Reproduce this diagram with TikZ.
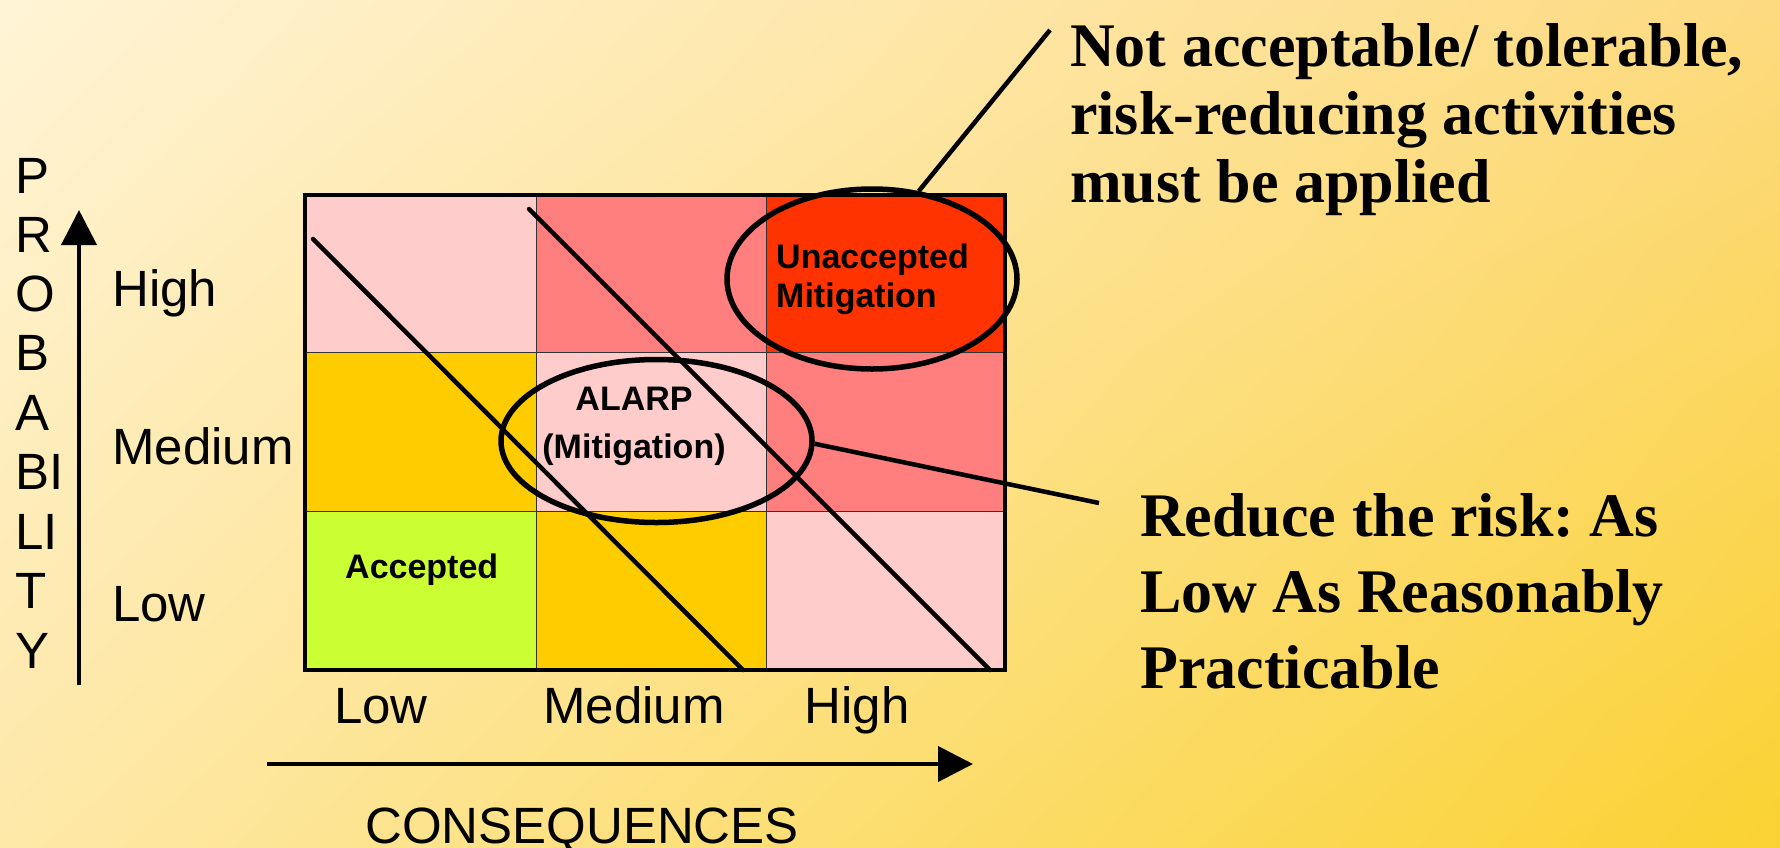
\documentclass[tikz,border=0pt]{standalone}
\usepackage{fontspec}
\setmainfont{Liberation Serif}
\setsansfont{Liberation Sans}
\frenchspacing
\usetikzlibrary{shapes.geometric,arrows.meta,shadings}
\definecolor{bgTL}{HTML}{FFF4D6}
\definecolor{bgTR}{HTML}{FDDA80}
\definecolor{bgBL}{HTML}{FEE8A8}
\definecolor{bgBR}{HTML}{FAD232}
\definecolor{cpink}{HTML}{FFCCCC}
\definecolor{csalmon}{HTML}{FF7F7F}
\definecolor{cred}{HTML}{FF3300}
\definecolor{cgold}{HTML}{FFCC00}
\definecolor{clime}{HTML}{CCFF33}
\tikzset{
  cell/.style={draw=black!80, line width=1pt},
  diag/.style={line width=4.5pt, line cap=round},
  ring/.style={ellipse, draw, line width=5.5pt, inner sep=0pt},
  leader/.style={line width=4.5pt},
  axis/.style={line width=4pt, -{Triangle[length=35pt,width=35pt]}},
  lab/.style={font=\sffamily\fontsize{51}{58}\selectfont, inner sep=0pt},
  celltxt/.style={font=\sffamily\bfseries\fontsize{34}{39}\selectfont, inner sep=0pt},
  note/.style={font=\rmfamily\bfseries\fontsize{62}{68}\selectfont, inner sep=0pt, align=left},
}
\begin{document}
\begin{tikzpicture}[x=1pt,y=-1pt]
\useasboundingbox (0,0) rectangle (1780,847);
\shade[upper left=bgTL, upper right=bgTR, lower left=bgBL, lower right=bgBR] (0,0) rectangle (1780,847);
% cells
\fill[cpink]   (305,195) rectangle (536,352);
\fill[csalmon] (536,195) rectangle (766,352);
\fill[cred]    (766,195) rectangle (1005,352);
\fill[cgold]   (305,352) rectangle (536,511);
\fill[cpink]   (536,352) rectangle (766,511);
\fill[csalmon] (766,352) rectangle (1005,511);
\fill[clime]   (305,511) rectangle (536,670);
\fill[cgold]   (536,511) rectangle (766,670);
\fill[cpink]   (766,511) rectangle (1005,670);
\draw[cell] (536,195) -- (536,670) (766,195) -- (766,670) (305,352) -- (1005,352) (305,511) -- (1005,511);
% diagonal lines
\coordinate (d1a) at (313,239);
\coordinate (d1b) at (743,670);
\coordinate (d2a) at (529,209);
\coordinate (d2b) at (990,670);
\draw[diag] (d1a) -- (d1b);
\draw[diag] (d2a) -- (d2b);
% border
\draw[line width=4.5pt] (305,195) rectangle (1005,670);
% cell texts
\node[celltxt, anchor=base west] (acc) at (345,578) {Accepted};
\node[celltxt, anchor=base west, align=left] (unacc) at (776,307) {Unaccepted\\Mitigation};
\node[celltxt, anchor=base, align=center] (alarp) at (634,458) {ALARP\\[9pt](Mitigation)};
% ellipses
\node[ring, minimum width=290pt, minimum height=180pt] (e1) at (872,279) {};
\node[ring, minimum width=311pt, minimum height=163pt] (e2) at (656.5,441) {};
% notes
\node[note, anchor=base west] (t1) at (1070,202) {Not acceptable/ tolerable,\\risk-reducing activities\\must be applied};
\node[note, anchor=base west, font=\rmfamily\bfseries\fontsize{62}{76}\selectfont] (t2) at (1140,688) {Reduce the risk: As\\Low As Reasonably\\Practicable};
\coordinate (c1) at (1050,30);
\coordinate (c2) at (1099,503);
\draw[leader] (e1.62) -- (c1);
\draw[leader] (e2.-1) -- (c2);
% axes
\coordinate (ya) at (79,685);
\coordinate (yb) at (79,210);
\coordinate (xa) at (267,764);
\coordinate (xb) at (973,764);
\draw[axis] (ya) -- (yb);
\draw[axis] (xa) -- (xb);
% axis labels
\node[lab, anchor=base west] (yh) at (112,306) {High};
\node[lab, anchor=base west] (ym) at (112,464) {Medium};
\node[lab, anchor=base west] (yl) at (112,621) {Low};
\node[lab, anchor=base] (xl) at (381,723) {Low};
\node[lab, anchor=base] (xm) at (634,723) {Medium};
\node[lab, anchor=base] (xh) at (857,723) {High};
\node[lab, anchor=base] (xt) at (582,843) {CONSEQUENCES};
\foreach \t/\yy [count=\i] in {P/193,R/252,O/311,B/370,A/430,BI/489,LI/549,T/608,Y/668}{
  \node[lab, anchor=base west] (p\i) at (15,\yy) {\t};
}
\end{tikzpicture}
\end{document}
